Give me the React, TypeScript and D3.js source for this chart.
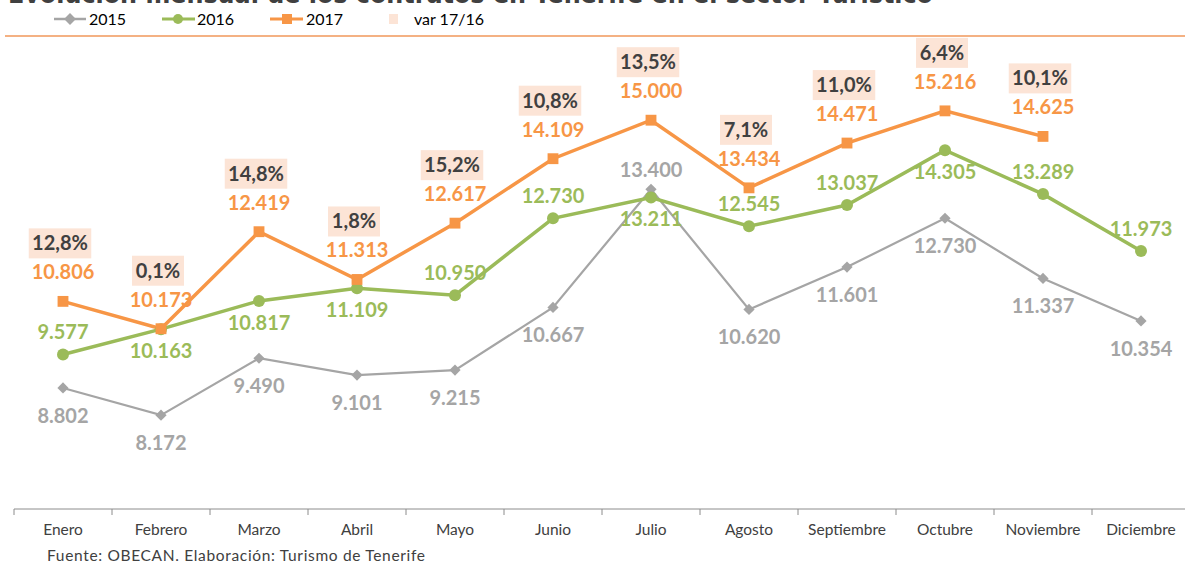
import React from "react";
import * as d3 from "d3";

const months = ["Enero","Febrero","Marzo","Abril","Mayo","Junio","Julio","Agosto","Septiembre","Octubre","Noviembre","Diciembre"];
const v2015 = [8802, 8172, 9490, 9101, 9215, 10667, 13400, 10620, 11601, 12730, 11337, 10354];
const v2016 = [9577, 10163, 10817, 11109, 10950, 12730, 13211, 12545, 13037, 14305, 13289, 11973];
const v2017: (number | null)[] = [10806, 10173, 12419, 11313, 12617, 14109, 15000, 13434, 14471, 15216, 14625, null];
const var1716: (string | null)[] = ["12,8%","0,1%","14,8%","1,8%","15,2%","10,8%","13,5%","7,1%","11,0%","6,4%","10,1%", null];
// label placement (1 = above point, -1 = below point)
const place2015 = [-1,-1,-1,-1,-1,-1,1,-1,-1,-1,-1,-1];
const place2016 = [1,-1,-1,-1,1,1,-1,1,1,-1,1,1];

const title = "Evolución mensual de los contratos en Tenerife en el sector Turístico";
const source = "Fuente: OBECAN. Elaboración: Turismo de Tenerife";

const W = 1185, H = 564;
const fmt = (v: number) => d3.format(",")(v).replace(/,/g, ".");

export default function App() {
  const x = d3.scaleBand<string>().domain(months).range([14, 1190]).paddingInner(0).paddingOuter(0);
  const cx = (m: string) => (x(m) as number) + x.bandwidth() / 2;
  const y = d3.scaleLinear().domain([6000, 16000]).range([509, 77]);

  const line = d3.line<[string, number]>().x(d => cx(d[0])).y(d => y(d[1]));
  const d15 = months.map((m, i) => [m, v2015[i]] as [string, number]);
  const d16 = months.map((m, i) => [m, v2016[i]] as [string, number]);
  const d17 = months.map((m, i) => [m, v2017[i]] as [string, number | null]).filter(d => d[1] != null) as [string, number][];

  const gray = "#A5A5A5", green = "#9BBB59", orange = "#F79646", dark = "#404040";
  const font = "Lato, 'Open Sans', sans-serif";
  const diamond = d3.symbol(d3.symbolDiamond2, 80)();
  const diamondLeg = d3.symbol(d3.symbolDiamond2, 90)();
  const square = d3.symbol(d3.symbolSquare2, 150)();

  return (
    <div style={{ position: "absolute", left: 0, top: 0 }}>
      <svg width={W} height={H} style={{ display: "block", fontFamily: font }}>
        <rect width={W} height={H} fill="#fff" />
        <text x={8} y={3} fontSize={26} fontWeight={700} fill={dark} textLength={925} lengthAdjust="spacingAndGlyphs" fontFamily="'DejaVu Sans', sans-serif">{title}</text>
        {/* legend */}
        <g fontSize={16} fill="#000">
          <line x1={54} x2={86} y1={19} y2={19} stroke={gray} strokeWidth={2.5} />
          <path d={diamondLeg} transform="translate(70,19)" fill={gray} />
          <text x={89} y={25}>2015</text>
          <line x1={162} x2={195} y1={19} y2={19} stroke={green} strokeWidth={3} />
          <circle cx={178} cy={19} r={5} fill={green} />
          <text x={197} y={25}>2016</text>
          <line x1={270} x2={303} y1={19} y2={19} stroke={orange} strokeWidth={3} />
          <rect x={282} y={14} width={10} height={10} fill={orange} />
          <text x={306} y={25}>2017</text>
          <rect x={389} y={14} width={9} height={10} fill="#FCE4D6" />
          <text x={414} y={25}>var 17/16</text>
        </g>
        <line x1={5} x2={1185} y1={36} y2={36} stroke="#F4B183" strokeWidth={2} />

        {/* axis */}
        <line x1={14} x2={1190} y1={509} y2={509} stroke="#8C8C8C" strokeWidth={1} />
        {months.map(m => (
          <line key={"t" + m} x1={x(m) as number} x2={x(m) as number} y1={509} y2={515} stroke="#8C8C8C" />
        ))}
        {months.map(m => (
          <text key={"l" + m} x={cx(m)} y={535} textAnchor="middle" fontSize={15.5} fill={dark}>{m}</text>
        ))}
        <text x={47} y={561} fontSize={15.5} fill={dark} textLength={378} lengthAdjust="spacing">{source}</text>

        {/* series */}
        <path d={line(d15) || ""} fill="none" stroke={gray} strokeWidth={2.2} />
        <path d={line(d16) || ""} fill="none" stroke={green} strokeWidth={3.5} />
        <path d={line(d17) || ""} fill="none" stroke={orange} strokeWidth={3.5} />

        {d15.map(d => <path key={"m15" + d[0]} d={diamond} transform={`translate(${cx(d[0])},${y(d[1])})`} fill={gray} />)}
        {d16.map(d => <circle key={"m16" + d[0]} cx={cx(d[0])} cy={y(d[1])} r={6} fill={green} />)}
        {d17.map(d => <path key={"m17" + d[0]} d={square} transform={`translate(${cx(d[0])},${y(d[1])})`} fill={orange} />)}

        <g fontSize={20} fontWeight={700} textAnchor="middle">
          {d15.map((d, i) => (
            <text key={"v15" + d[0]} x={cx(d[0])} y={y(d[1]) + (place2015[i] > 0 ? -12 : 35)} fill={gray}>{fmt(d[1])}</text>
          ))}
          {d16.map((d, i) => (
            <text key={"v16" + d[0]} x={cx(d[0])} y={y(d[1]) + (place2016[i] > 0 ? -15 : 29)} fill={green}>{fmt(d[1])}</text>
          ))}
          {d17.map(d => (
            <text key={"v17" + d[0]} x={cx(d[0])} y={y(d[1]) - 22} fill={orange}>{fmt(d[1])}</text>
          ))}
          {d17.map(d => {
            const lab = var1716[months.indexOf(d[0])];
            if (!lab) return null;
            const w = lab.length * 10.5 + 10;
            const yc = y(d[1]) - 58;
            return (
              <g key={"p" + d[0]}>
                <rect x={cx(d[0]) - 3 - w / 2} y={yc - 15} width={w} height={30} fill="#FCE4D6" />
                <text x={cx(d[0]) - 3} y={yc + 7} fill={dark}>{lab}</text>
              </g>
            );
          })}
        </g>
      </svg>
    </div>
  );
}
